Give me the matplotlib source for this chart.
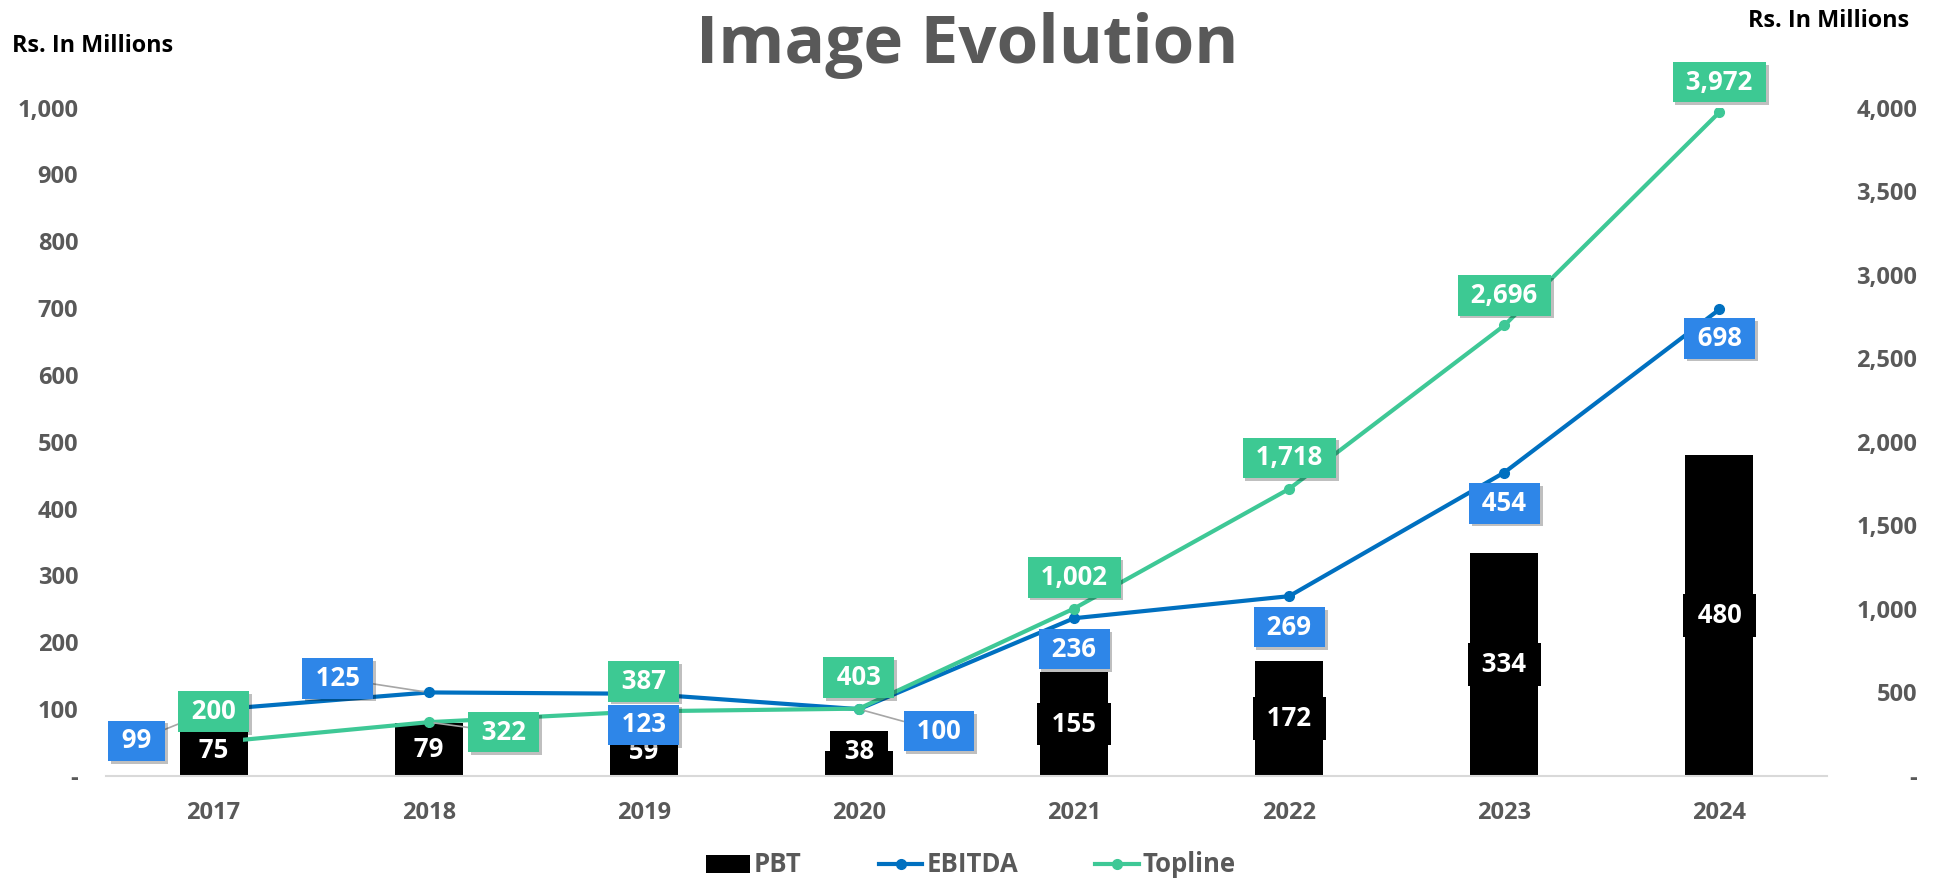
import matplotlib
matplotlib.use("Agg")
import matplotlib.pyplot as plt
import matplotlib.patheffects as pe
from matplotlib.patches import Patch
from matplotlib.lines import Line2D
from matplotlib.ticker import FuncFormatter

years = ["2017", "2018", "2019", "2020", "2021", "2022", "2023", "2024"]
pbt = [75, 79, 59, 38, 155, 172, 334, 480]
ebitda = [99, 125, 123, 100, 236, 269, 454, 698]
topline = [200, 322, 387, 403, 1002, 1718, 2696, 3972]

# label offsets (pixels) relative to each point
ebitda_off = [(-77, -31), (-91, 14), (0, -31), (80, -22), (0, -31), (0, -31), (0, -31), (0, -29)]
topline_off = [(0, 31), (75, -10), (0, 30), (0, 31), (0, 31), (0, 31), (0, 30), (0, 30)]
ebitda_leader = [True, True, False, True, False, False, False, False]
topline_leader = [False, True, False, False, False, False, False, False]

plt.rcParams['font.family'] = ['Open Sans', 'DejaVu Sans']
GRAY = '#595959'
BLUE_LINE = '#0070C0'
BLUE_BOX = '#2E86E8'
GREEN = '#3EC896'
GREEN_BOX = '#3DC993'
LABEL_FS = 18.5

fig = plt.figure(figsize=(19.38, 8.82), dpi=100)
ax = fig.add_axes([106/1938, 1 - 776/882, (1827-106)/1938, (776-107.5)/882])
ax2 = ax.twinx()

x = list(range(len(years)))
ax.bar(x, pbt, width=0.316, color='black', zorder=2)
ax.plot(x, ebitda, color=BLUE_LINE, lw=3, marker='o', ms=7, zorder=3)
ax2.plot(x, topline, color=GREEN, lw=3, marker='o', ms=7, zorder=3)

ax.set_xlim(-0.5, len(years) - 0.5)
ax.set_ylim(0, 1000)
ax2.set_ylim(0, 4000)
ax.set_yticks(range(0, 1001, 100))
ax2.set_yticks(range(0, 4001, 500))
fmt = FuncFormatter(lambda v, p: '-' if v == 0 else f'{int(v):,}')
ax.yaxis.set_major_formatter(fmt)
ax2.yaxis.set_major_formatter(fmt)
ax.set_xticks(x)
ax.set_xticklabels(years)

for a in (ax, ax2):
    for s in a.spines.values():
        s.set_visible(False)
    a.tick_params(length=0, labelsize=17, labelcolor=GRAY)
    for t in a.get_xticklabels() + a.get_yticklabels():
        t.set_fontweight('bold')
ax.spines['bottom'].set_visible(True)
ax.spines['bottom'].set_color('#D9D9D9')
ax.spines['bottom'].set_linewidth(1.5)
ax.tick_params(axis='y', pad=20)
ax.tick_params(axis='x', pad=18)
ax2.tick_params(axis='y', pad=65)
for t in ax2.get_yticklabels():
    t.set_horizontalalignment('right')

shadow = [pe.SimplePatchShadow(offset=(2, -2), shadow_rgbFace='#000000', alpha=0.25), pe.Normal()]

def box_label(text, xy, off, fc, leader, trans):
    ann = ax2.annotate(' ' + text + ' ', xy=xy, xycoords=trans, xytext=off, textcoords='offset pixels',
                       ha='center', va='center', fontsize=LABEL_FS, fontweight='bold', color='white',
                       bbox=dict(boxstyle='square,pad=0.26', fc=fc, ec='none'),
                       arrowprops=dict(arrowstyle='-', color='#A6A6A6', lw=1.2, shrinkA=0, shrinkB=4) if leader else None,
                       zorder=6, annotation_clip=False)
    ann.get_bbox_patch().set_path_effects(shadow)
    return ann

for i in x:
    # PBT labels at bar centre (kept clear of the baseline for short bars)
    t = ax2.annotate(f' {pbt[i]:,} ', xy=(i, max(pbt[i] / 2, 36)), xycoords=ax.transData,
                     ha='center', va='center', fontsize=LABEL_FS, fontweight='bold', color='white',
                     bbox=dict(boxstyle='square,pad=0.3', fc='black', ec='none'), zorder=5,
                     annotation_clip=False)
    t.get_bbox_patch().set_path_effects([pe.SimplePatchShadow(offset=(0, 0), shadow_rgbFace='#000000', alpha=0.3), pe.Normal()])
    box_label(f'{ebitda[i]:,}', (i, ebitda[i]), ebitda_off[i], BLUE_BOX, ebitda_leader[i], ax.transData)
    box_label(f'{topline[i]:,}', (i, topline[i]), topline_off[i], GREEN_BOX, topline_leader[i], ax2.transData)

fig.text(967/1938, 1 - 63/882, 'Image Evolution', ha='center', va='baseline', fontsize=48.5,
         fontweight='bold', color=GRAY)
fig.text(12/1938, 1 - 52/882, 'Rs. In Millions', ha='left', va='baseline', fontsize=16.8,
         fontweight='bold', color='black')
fig.text(1909/1938, 1 - 27/882, 'Rs. In Millions', ha='right', va='baseline', fontsize=16.8,
         fontweight='bold', color='black')

handles = [Patch(facecolor='black', label='PBT'),
           Line2D([0], [0], color=BLUE_LINE, lw=3, marker='o', ms=7, label='EBITDA'),
           Line2D([0], [0], color=GREEN, lw=3, marker='o', ms=7, label='Topline')]
leg = fig.legend(handles=handles, loc='center', bbox_to_anchor=(971/1938, 1 - 865/882), ncol=3,
                 frameon=False, prop={'weight': 'bold', 'size': 18.5}, labelcolor=GRAY,
                 handlelength=1.7, handletextpad=0.15, columnspacing=3.0)

fig.savefig('out.png', dpi=100)
